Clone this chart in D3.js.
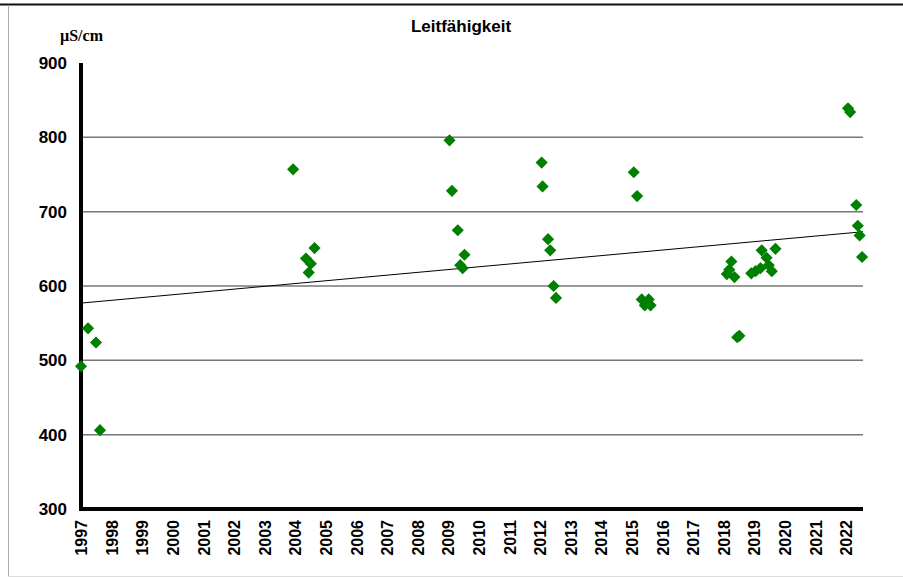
<!DOCTYPE html>
<html>
<head>
<meta charset="utf-8">
<script src="https://d3js.org/d3.v7.min.js"></script>
<style>
  body { margin: 0; background: #fff; }
  svg { display: block; }
</style>
</head>
<body>
<div id="chart"></div>
<script>
// measured conductivity, fractional year -> µS/cm
var years = [1997.0, 1997.23, 1997.49, 1997.62,
  2003.93, 2004.35, 2004.44, 2004.51, 2004.63,
  2009.04, 2009.12, 2009.31, 2009.39, 2009.47, 2009.53,
  2012.05, 2012.08, 2012.26, 2012.33, 2012.44, 2012.52,
  2015.06, 2015.17, 2015.32, 2015.42, 2015.55, 2015.61,
  2018.10, 2018.18, 2018.25, 2018.35, 2018.44, 2018.51,
  2018.90, 2019.04, 2019.20, 2019.24, 2019.40, 2019.47, 2019.57, 2019.69,
  2022.06, 2022.13, 2022.33, 2022.38, 2022.44, 2022.52];
var values = [492, 543, 524, 406,
  757, 637, 618, 630, 651,
  796, 728, 675, 628, 624, 642,
  766, 734, 663, 648, 600, 584,
  753, 721, 582, 574, 582, 574,
  616, 622, 633, 612, 531, 533,
  617, 620, 624, 648, 638, 628, 620, 650,
  839, 834, 709, 681, 668, 639];

var trendYears = [1997.0, 2022.55];
var trendValues = [577, 673];

var yearTicks = d3.range(1997, 2023);
var valueTicks = [300, 400, 500, 600, 700, 800, 900];

var W = 903, H = 577;
var x0 = 81, x1 = 863, yTop = 63, yBot = 509;

var svg = d3.select("#chart").append("svg")
    .attr("width", W)
    .attr("height", H);

// frame
svg.append("line").attr("x1", 0).attr("x2", W).attr("y1", 4.5).attr("y2", 4.5)
    .attr("stroke", "#111").attr("stroke-width", 2);
svg.append("line").attr("x1", 8.5).attr("x2", 8.5).attr("y1", 5).attr("y2", 576)
    .attr("stroke", "#aaa").attr("stroke-width", 1);
svg.append("line").attr("x1", 8).attr("x2", W).attr("y1", 576.5).attr("y2", 576.5)
    .attr("stroke", "#ddd").attr("stroke-width", 1);

var x = d3.scaleLinear().domain([1997, 2022.55]).range([x0, x1]);
var y = d3.scaleLinear().domain([300, 900]).range([yBot, yTop]);

// gridlines
svg.append("g").selectAll("line")
    .data(valueTicks.filter(function(d) { return d > 300 && d < 900; }))
    .enter().append("line")
    .attr("x1", x0).attr("x2", x1)
    .attr("y1", function(d) { return y(d); })
    .attr("y2", function(d) { return y(d); })
    .attr("stroke", "#777").attr("stroke-width", 1.5);

// y axis labels
var yAxis = d3.axisLeft(y).tickValues(valueTicks).tickSize(0).tickPadding(14);
svg.append("g")
    .attr("transform", "translate(" + x0 + ",0)")
    .call(yAxis)
    .call(function(g) { g.select(".domain").remove(); })
    .selectAll("text")
    .style("font-family", "Arial, 'Liberation Sans', sans-serif")
    .style("font-weight", "bold")
    .style("font-size", "17px")
    .attr("fill", "#000");

// x axis labels
var xAxis = d3.axisBottom(x).tickValues(yearTicks).tickFormat(d3.format("d")).tickSize(0);
svg.append("g")
    .attr("transform", "translate(0," + yBot + ")")
    .call(xAxis)
    .call(function(g) { g.select(".domain").remove(); })
    .selectAll("text")
    .attr("transform", "rotate(-90)")
    .attr("x", -11)
    .attr("y", 0)
    .attr("dy", "0.35em")
    .style("text-anchor", "end")
    .style("font-family", "Arial, 'Liberation Sans', sans-serif")
    .style("font-weight", "bold")
    .style("font-size", "16px")
    .attr("fill", "#000");

// axes lines
svg.append("path")
    .attr("d", "M" + x0 + "," + yTop + "V" + yBot + "H" + x1)
    .attr("fill", "none").attr("stroke", "#000").attr("stroke-width", 4);

// trend line
var line = d3.line()
    .x(function(d) { return x(d[0]); })
    .y(function(d) { return y(d[1]); });
svg.append("path")
    .datum(d3.zip(trendYears, trendValues))
    .attr("d", line)
    .attr("fill", "none").attr("stroke", "#000").attr("stroke-width", 1);

// points
var diamond = d3.symbol().type(d3.symbolSquare).size(74);
svg.append("g").selectAll("path")
    .data(d3.zip(years, values))
    .enter().append("path")
    .attr("d", diamond)
    .attr("transform", function(d) { return "translate(" + x(d[0]) + "," + y(d[1]) + ") rotate(45)"; })
    .attr("fill", "#008000");

// title and unit
svg.append("text")
    .attr("x", 461).attr("y", 32)
    .attr("text-anchor", "middle")
    .style("font-family", "Arial, 'Liberation Sans', sans-serif")
    .style("font-weight", "bold")
    .style("font-size", "17px")
    .text("Leitfähigkeit");

svg.append("text")
    .attr("x", 60).attr("y", 41)
    .style("font-family", "'Times New Roman', 'Liberation Serif', serif")
    .style("font-weight", "bold")
    .style("font-size", "16px")
    .text("µS/cm");
</script>
</body>
</html>
